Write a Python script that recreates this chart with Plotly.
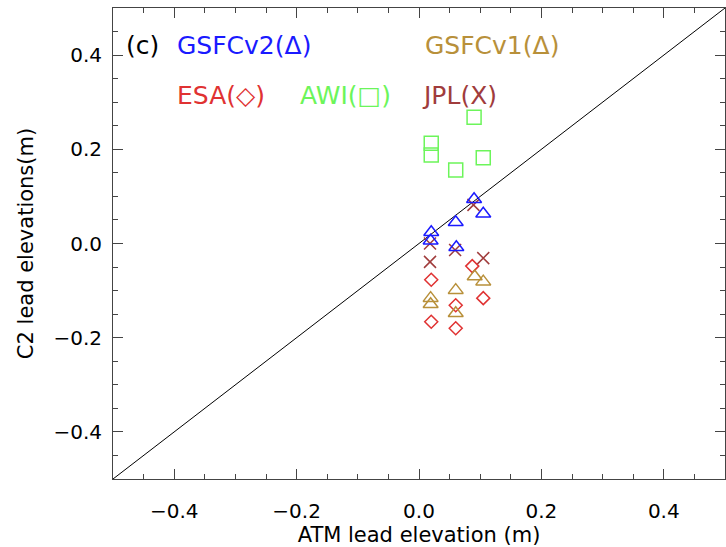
import plotly.graph_objects as go

# ATM lead elevation (m) vs CryoSat-2 lead elevation (m) for each product
gsfc2_x = [0.090, 0.105, 0.060, 0.020, 0.019, 0.061]
gsfc2_y = [0.094, 0.063, 0.045, 0.024, 0.006, -0.008]

gsfc1_x = [0.019, 0.019, 0.060, 0.060, 0.091, 0.105]
gsfc1_y = [-0.116, -0.129, -0.099, -0.148, -0.070, -0.081]

esa_x = [0.020, 0.020, 0.060, 0.060, 0.105, 0.087]
esa_y = [-0.077, -0.166, -0.131, -0.180, -0.116, -0.048]

awi_x = [0.090, 0.020, 0.020, 0.060, 0.105]
awi_y = [0.268, 0.213, 0.188, 0.156, 0.182]

jpl_x = [0.089, 0.018, 0.018, 0.059, 0.105]
jpl_y = [0.082, 0.000, -0.039, -0.014, -0.031]

one_to_one = [-0.5, 0.5]

BLUE = "#1a1aff"
GOLD = "#b8903a"
RED = "#e03232"
GREEN = "#6cf55a"
BROWN = "#a03c3c"

FONT = "DejaVu Sans"

fig = go.Figure()

fig.add_trace(go.Scatter(x=one_to_one, y=one_to_one, mode="lines",
                         line=dict(color="black", width=1), hoverinfo="skip"))

series = [
    (awi_x, awi_y, "square-open", 14, GREEN),
    (jpl_x, jpl_y, "x-thin-open", 12, BROWN),
    (esa_x, esa_y, "diamond-open", 10, RED),
    (gsfc1_x, gsfc1_y, "triangle-up-open", 13, GOLD),
    (gsfc2_x, gsfc2_y, "triangle-up-open", 13, BLUE),
]
for xs, ys, sym, size, col in series:
    fig.add_trace(go.Scatter(
        x=xs, y=ys, mode="markers",
        marker=dict(symbol=sym, size=size, color=col,
                    line=dict(color=col, width=1.5)),
    ))

labels = [
    ("(c)", 0.018, 0.921, "black"),
    ("GSFCv2(Δ)", 0.101, 0.921, BLUE),
    ("GSFCv1(Δ)", 0.507, 0.921, GOLD),
    ("ESA(◇)", 0.101, 0.815, RED),
    ("AWI(□)", 0.302, 0.815, GREEN),
    ("JPL(X)", 0.502, 0.815, BROWN),
]
for txt, ax, ay, col in labels:
    fig.add_annotation(text=txt, x=ax, y=ay, xref="paper", yref="paper",
                       xanchor="left", yanchor="middle", showarrow=False,
                       font=dict(family=FONT, size=25, color=col))

axis_common = dict(
    range=[-0.5, 0.5], dtick=0.2, tick0=0, tickformat=".1f",
    ticks="inside", ticklen=10, tickwidth=1, tickcolor="#444",
    minor=dict(dtick=0.05, ticks="inside", ticklen=5, tickcolor="#444"),
    showgrid=False, zeroline=False, showline=True, linecolor="#444",
    linewidth=1, mirror="ticks",
    tickfont=dict(family=FONT, size=20, color="black"),
)

fig.update_xaxes(**axis_common, ticklabelstandoff=14,
                 title=dict(text="ATM lead elevation (m)", standoff=6,
                            font=dict(family=FONT, size=21, color="black")))
fig.update_yaxes(**axis_common, ticklabelstandoff=6,
                 title=dict(text="C2 lead elevations(m)", standoff=14,
                            font=dict(family=FONT, size=21, color="black")))

fig.update_layout(
    width=726, height=547,
    margin=dict(l=113, r=1, t=8, b=68),
    paper_bgcolor="white", plot_bgcolor="white",
    showlegend=False,
)

fig.write_html("out.html")
